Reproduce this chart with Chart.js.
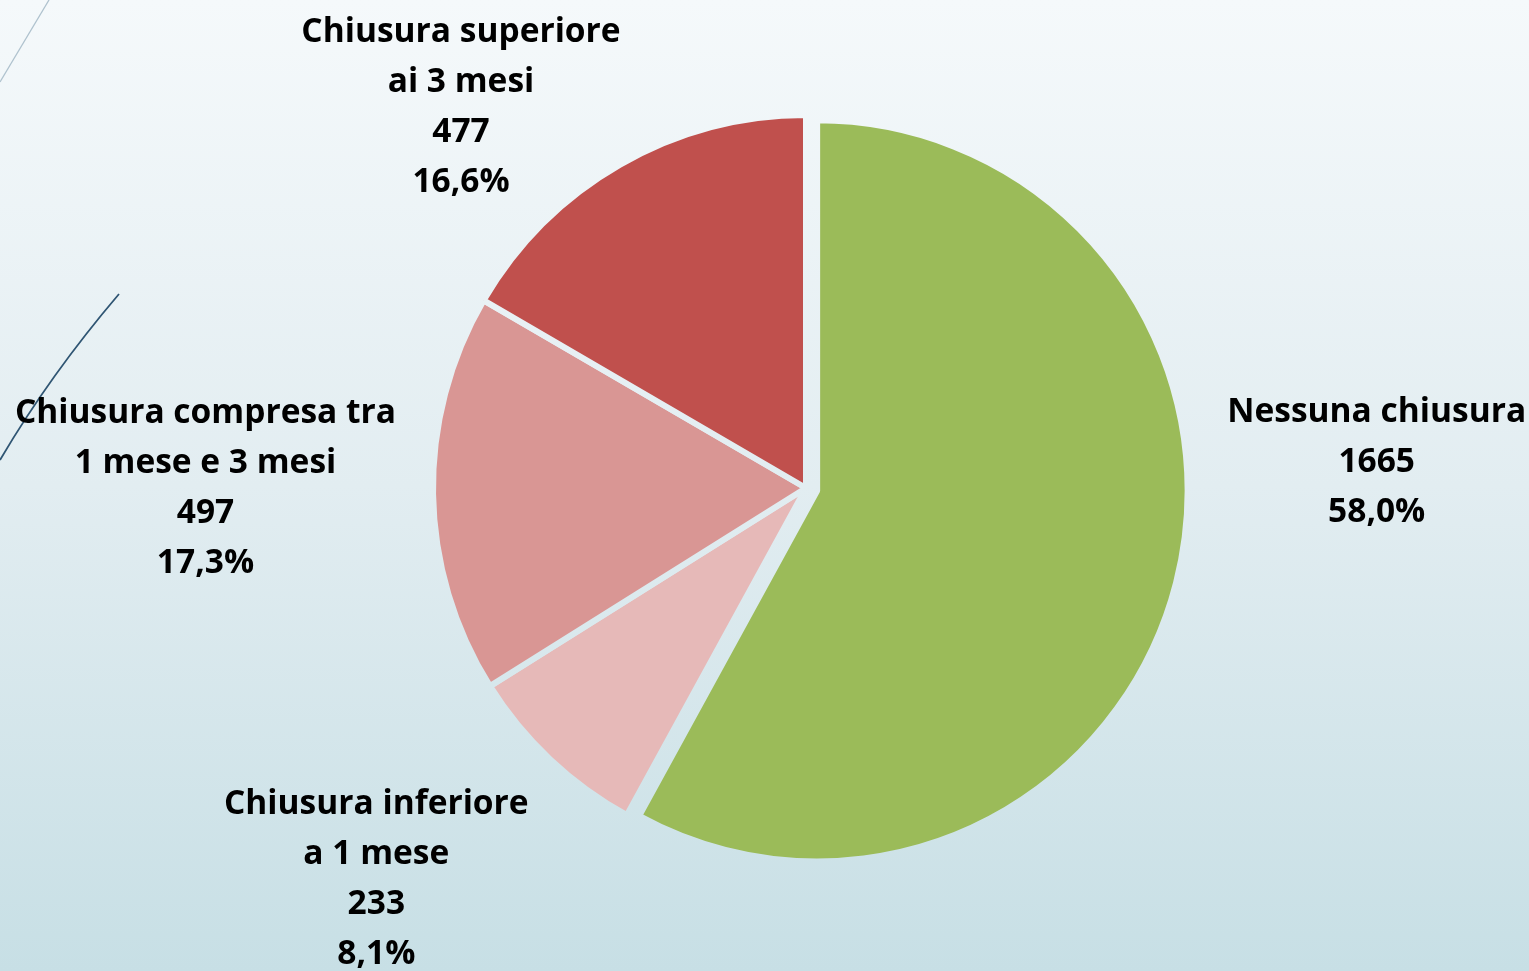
<!DOCTYPE html>
<html>
<head>
<meta charset="utf-8">
<script src="https://cdn.jsdelivr.net/npm/chart.js@4"></script>
<style>
  html, body { margin: 0; padding: 0; }
  #wrap { width: 1529px; height: 971px; position: relative; }
</style>
</head>
<body>
<div id="wrap"><canvas id="pie-chart"></canvas></div>
<script>
// categories (one line per array entry) and counts, in drawing order
const categories = [
  ['Nessuna chiusura'],
  ['Chiusura inferiore', 'a 1 mese'],
  ['Chiusura compresa tra', '1 mese e 3 mesi'],
  ['Chiusura superiore', 'ai 3 mesi']
];
const counts = [1665, 233, 497, 477];
const sliceColors = ['#9BBB59', '#E6B9B8', '#D99694', '#C0504D'];

// where each label block sits, relative to the pie centre, in pie radii
const labelPlacement = [
  { rx: 1.53, ry: -0.068 },
  { rx: -1.152, ry: 1.05 },
  { rx: -1.61, ry: 0 },
  { rx: -0.925, ry: -1.02 }
];

const total = counts.reduce((a, b) => a + b, 0);
const pct = v => (v / total * 100).toFixed(1).replace('.', ',') + '%';

let bgGradient = null;
function pageGradient(ctx) {
  if (!bgGradient) {
    bgGradient = ctx.createLinearGradient(0, 0, 0, 971);
    bgGradient.addColorStop(0, '#F5F9FB');
    bgGradient.addColorStop(0.5, '#E2EDF1');
    bgGradient.addColorStop(1, '#C7DFE5');
  }
  return bgGradient;
}

const backdrop = {
  id: 'backdrop',
  beforeDraw(chart) {
    const ctx = chart.ctx;
    ctx.save();
    ctx.fillStyle = pageGradient(ctx);
    ctx.fillRect(0, 0, chart.width, chart.height);
    // thin decorative strokes on the left edge
    ctx.strokeStyle = '#AFC2CE';
    ctx.lineWidth = 1.3;
    ctx.beginPath();
    ctx.moveTo(49, 0);
    ctx.lineTo(0, 82);
    ctx.stroke();
    ctx.strokeStyle = '#2F5573';
    ctx.lineWidth = 1.8;
    ctx.beginPath();
    ctx.moveTo(119, 294);
    ctx.quadraticCurveTo(50, 375, 0, 460);
    ctx.stroke();
    ctx.restore();
  }
};

// pull the first slice out of the pie like an exploded Excel slice
const explode = {
  id: 'explode',
  afterDatasetsUpdate(chart, args, opts) {
    const arc = chart.getDatasetMeta(0).data[0];
    const mid = (arc.startAngle + arc.endAngle) / 2;
    arc.x += Math.cos(mid) * opts.distance;
    arc.y += Math.sin(mid) * opts.distance;
    arc.outerRadius -= opts.shrink;
  }
};

const outerLabels = {
  id: 'outerLabels',
  afterDatasetsDraw(chart) {
    const ctx = chart.ctx;
    const base = chart.getDatasetMeta(0).data[1];
    const cx = base.x, cy = base.y, r = base.outerRadius;
    ctx.save();
    ctx.fillStyle = '#000';
    ctx.font = 'bold 33.5px "Open Sans"';
    ctx.textAlign = 'center';
    ctx.textBaseline = 'middle';
    const lineH = 50;
    chart.data.labels.forEach((lbl, i) => {
      const lines = [...lbl, String(counts[i]), pct(counts[i])];
      const p = labelPlacement[i];
      const x = cx + p.rx * r;
      const y0 = cy + p.ry * r - (lines.length - 1) * lineH / 2;
      lines.forEach((t, k) => ctx.fillText(t, x, y0 + k * lineH));
    });
    ctx.restore();
  }
};

new Chart(document.getElementById('pie-chart'), {
  type: 'pie',
  data: {
    labels: categories,
    datasets: [{
      data: counts,
      backgroundColor: sliceColors,
      borderColor: c => pageGradient(c.chart.ctx),
      borderWidth: 6,
      hoverOffset: 0
    }]
  },
  options: {
    responsive: true,
    maintainAspectRatio: false,
    animation: false,
    layout: { padding: { left: 430, right: 347, top: 112, bottom: 107 } },
    plugins: {
      legend: { display: false },
      tooltip: { enabled: false },
      explode: { distance: 11.5, shrink: 2.5 }
    }
  },
  plugins: [backdrop, explode, outerLabels]
});
</script>
</body>
</html>
